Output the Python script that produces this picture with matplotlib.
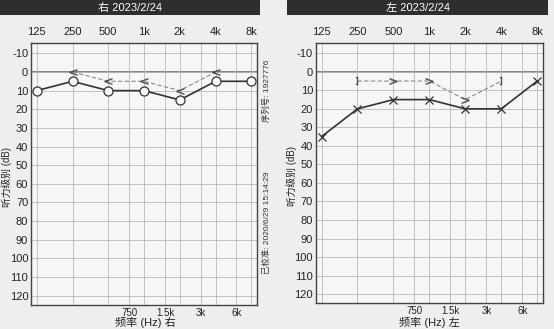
import numpy as np
import matplotlib.pyplot as plt
from matplotlib.patches import Rectangle

plt.rcParams['font.family'] = ['Liberation Sans', 'Noto Sans CJK SC', 'DejaVu Sans']
plt.rcParams['axes.unicode_minus'] = False

######################################################################################################
# Data
freqs = [125, 250, 500, 1000, 2000, 4000, 8000]
freq_labels = ['125', '250', '500', '1k', '2k', '4k', '8k']
half_freqs = [750, 1500, 3000, 6000]
half_labels = ['750', '1.5k', '3k', '6k']
db_ticks = list(range(-10, 130, 10))

# right ear (circles), air conduction
right_air = [10, 5, 10, 10, 15, 5, 5]
# right ear bone conduction (<)
right_bone_f = [250, 500, 1000, 2000, 4000]
right_bone = [0, 5, 5, 10, 0]

# left ear (crosses), air conduction
left_air = [35, 20, 15, 15, 20, 20, 5]
# left ear bone conduction (] masked, > unmasked)
left_bone_f = [250, 500, 1000, 2000, 4000]
left_bone = [5, 5, 5, 15, 5]
left_bone_sym = [']', '>', '>', '>', ']']

######################################################################################################
fig = plt.figure(figsize=(5.54, 3.29), dpi=100, facecolor='#eeeeee')

def setup(ax, side, xlab_x):
    ax.set_facecolor('#f6f6f6')
    ax.set_xscale('log', base=2)
    ax.set_xlim(125 * 2 ** -0.16, 8000 * 2 ** 0.16)
    ax.set_ylim(125, -15.5)
    ax.set_xticks(freqs)
    ax.set_xticklabels(freq_labels)
    ax.set_xticks(half_freqs, minor=True)
    ax.set_xticklabels(half_labels, minor=True)
    ax.set_yticks(db_ticks)
    ax.tick_params(which='major', axis='x', top=False, bottom=False, labeltop=True, labelbottom=False,
                   labelsize=8, pad=1, colors='#222222')
    ax.tick_params(which='minor', axis='x', top=False, bottom=False, labeltop=False, labelbottom=True,
                   labelsize=7, pad=0, colors='#222222')
    ax.tick_params(axis='y', length=0, labelsize=8, pad=2, colors='#222222')
    ax.grid(which='both', color='#b8b8b8', linewidth=0.6)
    ax.axhline(0, color='#777777', linewidth=1.3, zorder=1)
    for s in ax.spines.values():
        s.set_color('#444444')
        s.set_linewidth(1.0)
    fig.text(xlab_x, 0.003, '频率 (Hz) ' + side, fontsize=8, ha='center', va='bottom',
             color='#222222')
    ax.set_ylabel('听力级别 (dB)', fontsize=7, color='#222222')
    ax.yaxis.set_label_coords(-0.084, 0.49)

######################################################################################################
# Right ear (left panel)
ax1 = fig.add_axes([0.056, 0.073, 0.408, 0.796])
setup(ax1, '右', 0.262)
ax1.plot(right_bone_f, right_bone, color='#8a8a8a', lw=0.8, ls=(0, (4, 2)), zorder=2)
for f, v in zip(right_bone_f, right_bone):
    ax1.plot(f, v, marker='$<$', ms=5.5, color='#444444', mew=0.2, zorder=4)
ax1.plot(freqs, right_air, color='#333333', lw=1.2, marker='o', ms=6.5, mfc='#f6f6f6',
         mec='#333333', mew=0.9, zorder=3)

fig.text(0.482, 0.723, '序列号: 1927776', rotation=90, fontsize=6, ha='center', va='center',
         color='#333333')
fig.text(0.482, 0.322, '已校准: 2020/6/29 15:14:29', rotation=90, fontsize=6, ha='center',
         va='center', color='#333333')

######################################################################################################
# Left ear (right panel)
ax2 = fig.add_axes([0.570, 0.078, 0.410, 0.791])
setup(ax2, '左', 0.775)
ax2.plot(left_bone_f, left_bone, color='#8a8a8a', lw=0.8, ls=(0, (4, 2)), zorder=2)
for f, v, m in zip(left_bone_f, left_bone, left_bone_sym):
    ax2.plot(f, v, marker='$' + m + '$', ms=5.5, color='#444444', mew=0.2, zorder=4)
ax2.plot(freqs, left_air, color='#333333', lw=1.2, marker='x', ms=6, mew=0.9, zorder=3)

######################################################################################################
# Title bars
fig.patches.append(Rectangle((0.0, 0.954), 0.469, 0.046, transform=fig.transFigure,
                             facecolor='#2e2e2e', edgecolor='none'))
fig.patches.append(Rectangle((0.518, 0.954), 0.471, 0.046, transform=fig.transFigure,
                             facecolor='#2e2e2e', edgecolor='none'))
fig.text(0.235, 0.977, '右 2023/2/24', color='white', fontsize=8, ha='center', va='center')
fig.text(0.754, 0.977, '左 2023/2/24', color='white', fontsize=8, ha='center', va='center')

fig.savefig('out.png', dpi=100, facecolor=fig.get_facecolor())
